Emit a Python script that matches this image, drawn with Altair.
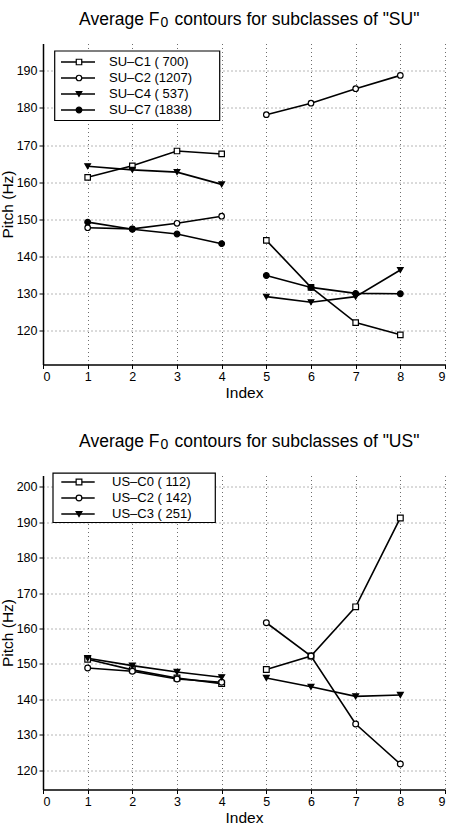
import altair as alt
import pandas as pd

# Frame positions along the F0 contour (1-4 first syllable, 5-8 second syllable)
INDEX = [1, 2, 3, 4, 5, 6, 7, 8]

# "SU" subclasses: names, token counts and mean pitch (Hz) per frame
SU_NAMES = ["SU–C1", "SU–C2", "SU–C4", "SU–C7"]
SU_COUNTS = ["( 700)", "(1207)", "( 537)", "(1838)"]
SU_C1 = [161.3, 164.4, 168.4, 167.6, 144.3, 131.6, 122.1, 118.8]
SU_C2 = [147.7, 147.4, 148.9, 150.8, 178.2, 181.3, 185.2, 188.8]
SU_C4 = [164.3, 163.3, 162.7, 159.4, 129.1, 127.6, 129.1, 136.3]
SU_C7 = [149.2, 147.3, 146.0, 143.4, 134.8, 131.6, 130.0, 129.9]

# "US" subclasses
US_NAMES = ["US–C0", "US–C2", "US–C3"]
US_COUNTS = ["( 112)", "( 142)", "( 251)"]
US_C0 = [151.3, 148.3, 146.0, 144.4, 148.4, 152.2, 166.1, 191.2]
US_C2 = [148.8, 147.9, 145.7, 144.8, 161.6, 152.2, 133.0, 121.7]
US_C3 = [151.6, 149.5, 147.7, 146.2, 146.0, 143.5, 140.8, 141.2]

X_TICKS = list(range(0, 10))
SU_Y_TICKS = [120, 130, 140, 150, 160, 170, 180, 190]
US_Y_TICKS = [120, 130, 140, 150, 160, 170, 180, 190, 200]

FONT = "Liberation Sans"
PLOT_W = 402


def long_frame(names, series):
    rows = []
    for name, vals in zip(names, series):
        for i, v in zip(INDEX, vals):
            part = "a" if i <= 4 else "b"
            rows.append({"series": name, "idx": i, "pitch": v, "seg": f"{name}-{part}"})
    return pd.DataFrame(rows)


def panel(names, counts, series, shapes, fills, sizes, ydomain, yticks, height,
          title_rest, title_y, sub_y, box, entry_y, line_x, marker_x, text_x):
    df = long_frame(names, series)

    x = alt.X("idx:Q",
              scale=alt.Scale(domain=[0, 9], nice=False, zero=False),
              axis=alt.Axis(values=X_TICKS, format="d", title="Index"))
    y = alt.Y("pitch:Q",
              scale=alt.Scale(domain=ydomain, nice=False, zero=False),
              axis=alt.Axis(values=yticks, format="d", title="Pitch (Hz)"))

    shape_enc = alt.Shape("series:N", scale=alt.Scale(domain=names, range=shapes), legend=None)
    fill_enc = alt.Fill("series:N", scale=alt.Scale(domain=names, range=fills), legend=None)
    size_enc = alt.Size("series:N", scale=alt.Scale(domain=names, range=sizes), legend=None)

    lines = alt.Chart(df).mark_line(color="black", strokeWidth=1.6).encode(
        x=x, y=y, detail="seg:N", order="idx:Q")
    points = alt.Chart(df).mark_point(filled=True, stroke="black", strokeWidth=1.2, opacity=1).encode(
        x=x, y=y, shape=shape_enc, fill=fill_enc, size=size_enc)
    data_layer = alt.layer(lines, points)

    # boxed legend in the upper-left corner; entries stacked by their order
    leg = pd.DataFrame({"series": names,
                        "slot": list(range(len(names))),
                        "label": [f"{n} {c}" for n, c in zip(names, counts)]})
    ly = alt.Y("slot:Q",
               scale=alt.Scale(domain=[0, len(names) - 1], range=list(entry_y), nice=False, zero=False),
               axis=None)
    one = pd.DataFrame({"k": [0]})
    leg_box = alt.Chart(one).mark_rect(fill="white", stroke="black", strokeWidth=1.2).encode(
        x=alt.value(box[0]), x2=alt.value(box[1]), y=alt.value(box[2]), y2=alt.value(box[3]))
    leg_lines = alt.Chart(leg).mark_rule(color="black", strokeWidth=1.5).encode(
        x=alt.value(line_x[0]), x2=alt.value(line_x[1]), y=ly)
    leg_pts = alt.Chart(leg).mark_point(filled=True, stroke="black", strokeWidth=1.2, opacity=1).encode(
        x=alt.value(marker_x), y=ly, shape=shape_enc, fill=fill_enc, size=size_enc)
    leg_txt = alt.Chart(leg).mark_text(align="left", baseline="middle", fontSize=13,
                                       font=FONT, color="black").encode(
        x=alt.value(text_x), y=ly, text="label:N")
    legend_layer = alt.layer(leg_box, leg_lines, leg_pts, leg_txt)

    # title with subscripted F0
    t1 = alt.Chart(pd.DataFrame({"t": ["Average F"]})).mark_text(
        align="right", baseline="alphabetic", fontSize=17.5, font=FONT, color="black").encode(
        x=alt.value(116.5), y=alt.value(title_y), text="t:N")
    t2 = alt.Chart(pd.DataFrame({"t": ["0"]})).mark_text(
        align="left", baseline="alphabetic", fontSize=14, font=FONT, color="black").encode(
        x=alt.value(117.5), y=alt.value(sub_y), text="t:N")
    t3 = alt.Chart(pd.DataFrame({"t": [title_rest]})).mark_text(
        align="left", baseline="alphabetic", fontSize=17.5, font=FONT, color="black").encode(
        x=alt.value(131.5), y=alt.value(title_y), text="t:N")

    return alt.layer(data_layer, legend_layer, t1, t2, t3).resolve_scale(
        y="independent").properties(width=PLOT_W, height=height)


top = panel(
    SU_NAMES, SU_COUNTS, [SU_C1, SU_C2, SU_C4, SU_C7],
    shapes=["square", "circle", "triangle-down", "circle"],
    fills=["white", "white", "black", "black"],
    sizes=[30, 34, 40, 14],
    ydomain=[110.8, 197.4], yticks=SU_Y_TICKS, height=321,
    title_rest='contours for subclasses of "SU"', title_y=-18.5, sub_y=-16.8,
    box=[11.7, 176.7, 7.5, 77], entry_y=[18.5, 66.5],
    line_x=[18, 52], marker_x=36, text_x=66,
)

bottom = panel(
    US_NAMES, US_COUNTS, [US_C0, US_C2, US_C3],
    shapes=["square", "circle", "triangle-down"],
    fills=["white", "white", "black"],
    sizes=[30, 34, 40],
    ydomain=[114.5, 203.2], yticks=US_Y_TICKS, height=314,
    title_rest='contours for subclasses of "US"', title_y=-28.5, sub_y=-26.8,
    box=[10, 172.3, -2.3, 47], entry_y=[6.5, 38.5],
    line_x=[18.3, 51.7], marker_x=36, text_x=69,
)

chart = alt.vconcat(top, bottom, spacing=32).properties(
    padding={"left": 0, "top": 10.5, "right": 0, "bottom": 0}
).configure_view(
    stroke=None
).configure_axis(
    labelFont=FONT, titleFont=FONT, labelFontSize=12.5, titleFontSize=15.5,
    labelColor="black", titleColor="black", titleFontWeight="normal",
    domainColor="black", domainWidth=1.5, tickColor="black", tickSize=4, tickWidth=1,
    grid=True, gridColor="#333333", gridDash=[1, 3], gridWidth=0.8, gridOpacity=0.9,
    labelPadding=2,
).configure_axisX(
    titlePadding=2
).configure_axisY(
    titlePadding=1
)

chart.save("out.html", embed_options={"renderer": "svg", "actions": False})
